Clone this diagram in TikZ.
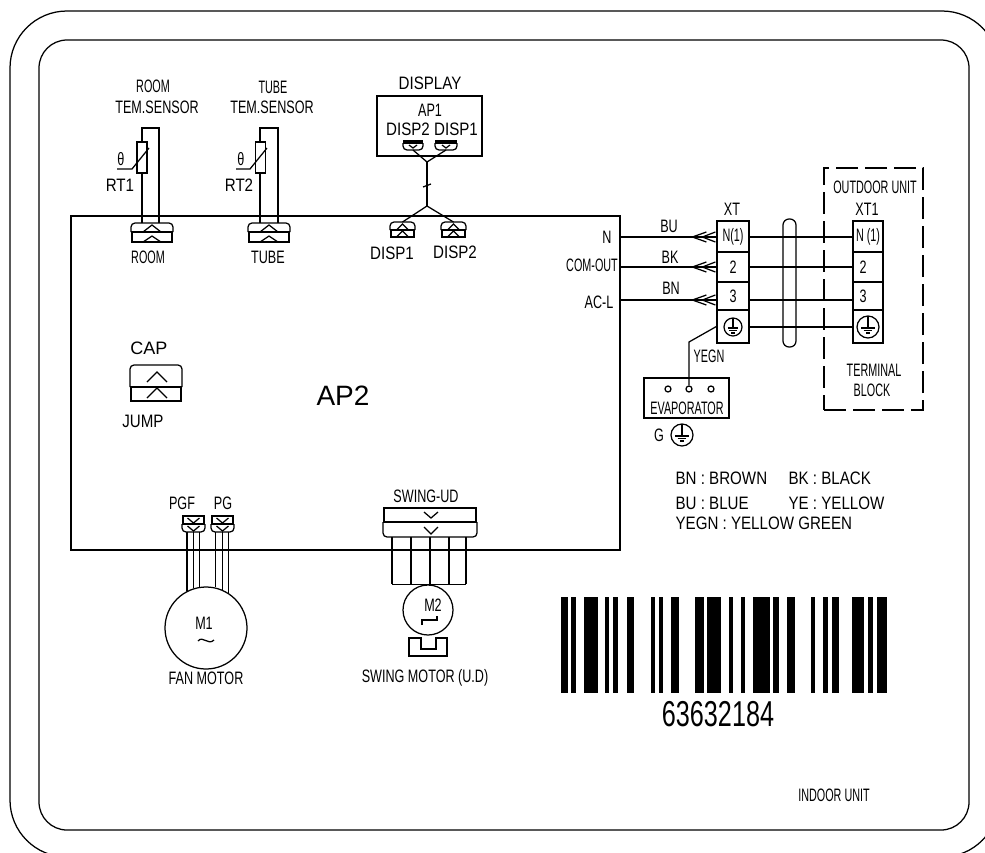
\documentclass[tikz,border=0pt]{standalone}
\usepackage{fontspec}
\setmainfont[FakeStretch=0.7]{Liberation Sans}
\newfontfamily\widefont{Liberation Sans}
\newfontfamily\tightfont[FakeStretch=0.6]{Liberation Sans}
\newfontfamily\loosefont[FakeStretch=0.84]{Liberation Sans}
\tikzset{
    termcell/.style={draw,rectangle,minimum width=32pt},
    ringmark/.style={draw,circle,minimum size=#1},
    plugedge/.style={rounded corners=4pt},
    tighttext/.style={font=\tightfont\fontsize{18}{20}\selectfont},
    loosetext/.style={font=\loosefont\fontsize{18}{20}\selectfont}
}
% plug: name, left, right, rounded side, middle line, square side
\newcommand{\plug}[6]{
    \draw[plugedge] (#2,#5) -- (#2,#4) -- (#3,#4) -- (#3,#5);
    \draw (#2,#5) -- (#3,#5);
    \draw (#2+1,#5) rectangle (#3-1,#6);
    \coordinate (#1) at ({(#2+#3)/2},#4);
}
\newcommand{\chevron}[4]{\draw (#1-#4,#3) -- (#1,#2) -- (#1+#4,#3);}
% earth: name, x, y, radius
\newcommand{\earthmark}[4]{
    \node[ringmark=2*#4 pt] (#1) at (#2,#3) {};
    \draw (#2,#3-#4) -- (#2,#3+1);
    \draw (#2-#4*0.6,#3+1) -- (#2+#4*0.6,#3+1);
    \draw (#2-#4*0.4,#3+3.5) -- (#2+#4*0.4,#3+3.5);
    \draw (#2-#4*0.2,#3+6) -- (#2+#4*0.2,#3+6);
}
\begin{document}
\begin{tikzpicture}[x=1pt,y=-1pt,line width=1.25pt,every node/.style={inner sep=0pt,font=\fontsize{18}{20}\selectfont}]
    \useasboundingbox (0,0) rectangle (985,852);
    \clip (0,0) rectangle (985,852);
    % frames
    \draw[rounded corners=57pt] (10,11) rectangle (999,857);
    \draw[rounded corners=28pt] (39,40) rectangle (969,830);
    \node[draw,minimum width=549pt,minimum height=334pt] (ap2) at (345.5,383) {};
    \node[font=\widefont\fontsize{28}{30}\selectfont] (ap2text) at (343,396) {AP2};
    % room sensor
    \node[tighttext] (roomtop) at (153,86) {ROOM};
    \node (roomtem) at (157,107) {TEM.SENSOR};
    \coordinate (rooml) at (142,128);
    \coordinate (roomr) at (159,128);
    \plug{roomplug}{131}{173}{223}{232}{242}
    \chevron{152}{225}{232}{9}
    \chevron{152}{236}{242}{9}
    \draw (roomplug -| rooml) -- (rooml) -- (roomr) -- (roomplug -| roomr);
    \node[draw,fill=white,minimum width=10pt,minimum height=31pt] (rt1box) at (142,157.5) {};
    \draw (117,169) -- (132,169) -- (149,148);
    \node (theta1) at (121,159) {θ};
    \node[loosetext] (rt1) at (120,185) {RT1};
    \node[tighttext] (roomlabel) at (148,257) {ROOM};
    % tube sensor
    \node[tighttext] (tubetop) at (273,87) {TUBE};
    \node (tubetem) at (272,107) {TEM.SENSOR};
    \coordinate (tubel) at (260,128);
    \coordinate (tuber) at (278,128);
    \plug{tubeplug}{248}{290}{223}{232}{242}
    \chevron{269}{225}{232}{9}
    \chevron{269}{236}{242}{9}
    \draw (tubeplug -| tubel) -- (tubel) -- (tuber) -- (tubeplug -| tuber);
    \node[draw,fill=white,minimum width=10pt,minimum height=31pt] (rt2box) at (260.5,157.5) {};
    \draw (236,169) -- (250,169) -- (267,148);
    \node (theta2) at (241,159) {θ};
    \node[loosetext] (rt2) at (239,185) {RT2};
    \node (tubelabel) at (268,257) {TUBE};
    % display
    \node[loosetext] (display) at (430,83) {DISPLAY};
    \node[draw,minimum width=105pt,minimum height=60pt] (ap1box) at (429.5,126) {};
    \node (ap1) at (430,110) {AP1};
    \node[loosetext] (ap1disp2) at (408,129) {DISP2};
    \node[loosetext] (ap1disp1) at (456,129) {DISP1};
    \plug{topplug2}{403}{423}{150}{143}{141}
    \plug{topplug1}{435}{457}{150}{143}{141}
    \chevron{413}{148}{145}{4}
    \chevron{446}{148}{145}{4}
    \coordinate (forkup) at (427,162);
    \coordinate (forkdown) at (427,206);
    \draw (topplug2) -- (forkup) -- (topplug1);
    \draw (forkup) -- (forkdown);
    \draw (423,187) -- (431,184);
    \plug{lowplug1}{390}{415}{222}{230}{237}
    \plug{lowplug2}{441}{466}{222}{230}{237}
    \chevron{402.5}{224}{230}{6}
    \chevron{402.5}{231}{237}{6}
    \chevron{453.5}{224}{230}{6}
    \chevron{453.5}{231}{237}{6}
    \draw (lowplug1) -- (forkdown) -- (lowplug2);
    \node[loosetext] (lowdisp1) at (392,253) {DISP1};
    \node[loosetext] (lowdisp2) at (455,252) {DISP2};
    % terminals
    \node[termcell,tighttext,minimum height=31pt] (xtn) at (733,236.5) {N(1)};
    \node[termcell,minimum height=30pt] (xt2) at (733,267) {2};
    \node[termcell,minimum height=28pt] (xt3) at (733,296) {3};
    \node[termcell,minimum height=33pt] (xtg) at (733,326.5) {};
    \node[termcell,tighttext,minimum height=31pt,minimum width=30pt] (xsn) at (868,236.5) {N (1)};
    \node[termcell,minimum height=30pt,minimum width=30pt] (xs2) at (868,267) {2\hspace*{10pt}};
    \node[termcell,minimum height=28pt,minimum width=30pt] (xs3) at (868,296) {3\hspace*{10pt}};
    \node[termcell,minimum height=33pt,minimum width=30pt] (xsg) at (868,326.5) {};
    \node (xtlabel) at (732,209) {XT};
    \node (xslabel) at (867,209) {XT1};
    \earthmark{xtearth}{733}{327}{9}
    \earthmark{xsearth}{868}{327}{11}
    \coordinate (apn) at (620,237);
    \coordinate (apc) at (620,267);
    \coordinate (apl) at (620,300);
    \node[anchor=east] (ntext) at (612,237) {N};
    \node[tighttext] (comtext) at (592,265) {COM-OUT};
    \node (actext) at (599,302) {AC-L};
    \node (butext) at (669,226) {BU};
    \node (bktext) at (670,257) {BK};
    \node (bntext) at (671,288) {BN};
    \foreach \w in {apn,apc,apl} {
        \draw (\w) -- (\w -| xtn.west);
        \draw (\w -| xtn.east) -- (\w -| xsn.west);
        \path (\w -| xtn.west) coordinate (mark);
        \draw ([xshift=-1pt,yshift=-5pt]mark) -- ([xshift=-14pt]mark) -- ([xshift=-1pt,yshift=5pt]mark);
        \draw ([xshift=-10pt,yshift=-5pt]mark) -- ([xshift=-24pt]mark) -- ([xshift=-10pt,yshift=5pt]mark);
    }
    \draw (xtg.east |- xtearth) -- (xsg.west |- xtearth);
    \node[draw,rounded corners=6pt,minimum width=13pt,minimum height=128pt] (cable) at (789.5,283) {};
    \node[draw,dash pattern=on 22pt off 7pt,minimum width=99pt,minimum height=242pt] (outdoor) at (873.5,289) {};
    \node[tighttext] (outdoortext) at (875,187) {OUTDOOR UNIT};
    \node[tighttext] (terminal) at (874,370) {TERMINAL};
    \node[tighttext] (block) at (872,390) {BLOCK};
    % evaporator
    \node[draw,minimum width=85pt,minimum height=40pt] (evapbox) at (686.5,398) {};
    \node[ringmark=6pt] (evapa) at (668,389) {};
    \node[ringmark=6pt] (evapb) at (689,389) {};
    \node[ringmark=6pt] (evapc) at (711,389) {};
    \node[tighttext] (evaptext) at (687,408) {EVAPORATOR};
    \node (gtext) at (659,435) {G};
    \earthmark{evapearth}{682}{435}{11}
    \draw (xtg.west) -- (689,342) -- (evapb);
    \node[tighttext] (yegn) at (709,356) {YEGN};
    % legend
    \node[anchor=west,loosetext] (keybn) at (675,478) {BN : BROWN};
    \node[anchor=west,loosetext] (keybk) at (788,478) {BK : BLACK};
    \node[anchor=west,loosetext] (keybu) at (675,503) {BU : BLUE};
    \node[anchor=west,loosetext] (keyye) at (788,503) {YE : YELLOW};
    \node[anchor=west,loosetext] (keyyegn) at (675,523) {YEGN : YELLOW GREEN};
    % jumper
    \node[font=\widefont\fontsize{18}{20}\selectfont] (captext) at (149,348) {CAP};
    \plug{jumpplug}{130}{182}{365}{387}{401}
    \chevron{157}{372}{382}{10}
    \chevron{157}{388}{398}{10}
    \node[loosetext] (jumptext) at (143,421) {JUMP};
    % fan motor
    \node (pgftext) at (182,503) {PGF};
    \node (pgtext) at (223,503) {PG};
    \plug{pgfplug}{182}{205}{532}{524}{516}
    \plug{pgplug}{211}{234}{532}{524}{516}
    \foreach \x in {193.5,222.5} {
        \chevron{\x}{523}{518}{6}
        \chevron{\x}{531}{526}{6}
    }
    \node[ringmark=82pt] (fanmotor) at (206,628) {};
    \foreach \a in {117.6,108.5,99.8,77.3,67,57.6} {
        \draw (fanmotor.\a |- pgfplug) -- (fanmotor.\a);
    }
    \node (m1) at (204,623) {M1};
    \draw (198,641) .. controls (203,635) and (208,646) .. (214,640);
    \node (fantext) at (206,678) {FAN MOTOR};
    % swing motor
    \node (swingtext) at (426,496) {SWING-UD};
    \plug{swingplug}{383}{477}{537}{522}{508}
    \chevron{431}{518}{512}{7}
    \chevron{431}{534}{527}{7}
    \node[ringmark=50pt] (swingmotor) at (428,610) {};
    \foreach \x in {392,411,430,449,466} {
        \draw (\x,0 |- swingplug) -- (\x,0 |- swingmotor.north);
    }
    \draw (392,0 |- swingmotor.north) -- (466,0 |- swingmotor.north);
    \node (m2) at (433,605) {M2};
    \draw (422,625) -- (422,620) -- (437,620) -- (437,616);
    \draw (409,638) -- (421,638) -- (421,649) -- (436,649) -- (436,638) -- (447,638) -- (447,656) -- (409,656) -- cycle;
    \node (swingmotortext) at (425,678) {SWING MOTOR (U.D)};
    % barcode
    \foreach \a/\b in {92/115,123/138,163/203,226/237,250/264,290/313,362/376,387/400,424/448,496/522,532/573,598/610,634/645,670/720,730/747,770/794,842/856,880/895,905/928,967/1003,1015/1030,1040/1072} {
        \fill (530+\a/3,597) rectangle (530+\b/3,693);
    }
    \node[font=\fontsize{36}{38}\selectfont] (barnumber) at (718,714) {63632184};
    \node[tighttext] (indoor) at (834,795) {INDOOR UNIT};
\end{tikzpicture}
\end{document}
